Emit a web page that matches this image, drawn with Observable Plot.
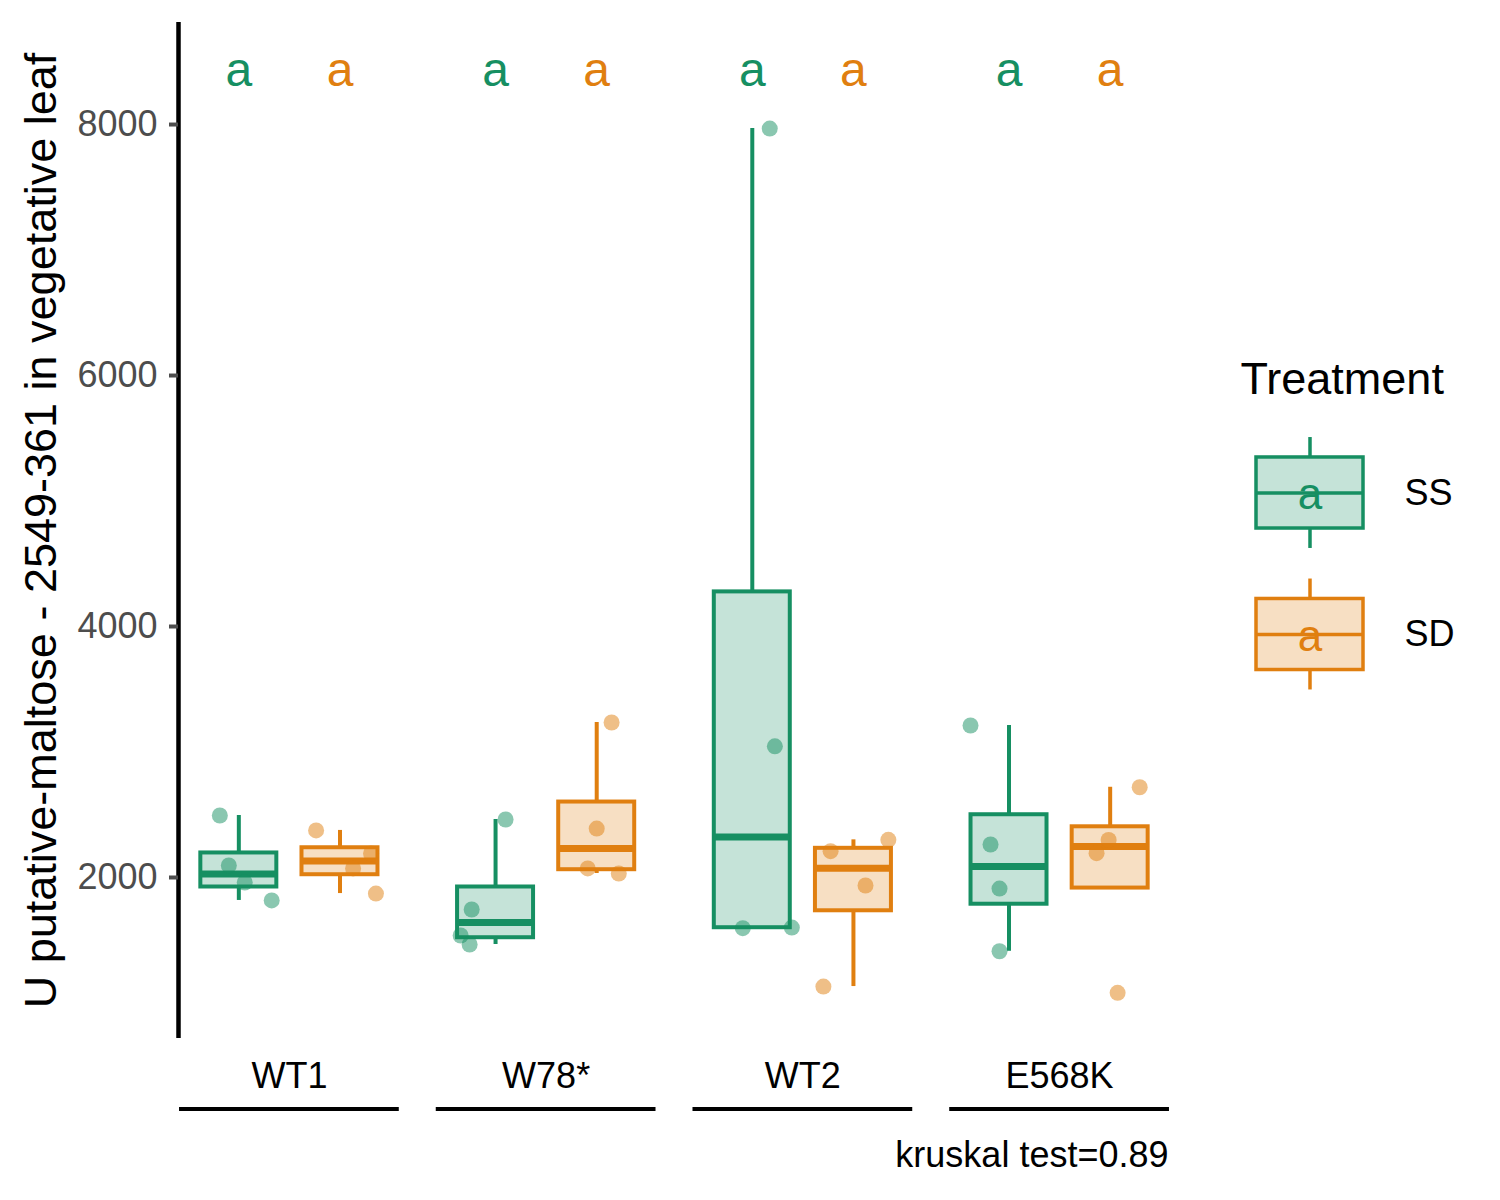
<!DOCTYPE html>
<html>
<head>
<meta charset="utf-8">
<script src="https://cdn.jsdelivr.net/npm/d3@7"></script>
<script src="https://cdn.jsdelivr.net/npm/@observablehq/plot@0.6"></script>
<style>
  html, body { margin: 0; padding: 0; background: #fff; }
  #wrap { position: relative; width: 1500px; height: 1200px; font-family: "Liberation Sans", Arial, sans-serif; }
  #main { position: absolute; left: 0; top: 0; }
  #legend { position: absolute; left: 1200px; top: 300px; }
</style>
</head>
<body>
<div id="wrap"><div id="main"></div><div id="legend"></div></div>
<script>
// ---------- data ----------
const genotypes = ["WT1", "W78*", "WT2", "E568K"];
const treatments = ["SS", "SD"];
const ssValues = [[2494, 2096, 1960, 1817], [2462, 1745, 1538, 1466], [7968, 3045, 1596, 1601], [3211, 2263, 1912, 1412]];
const sdValues = [[2375, 2191, 2072, 1872], [3235, 2390, 2072, 2032], [2210, 2300, 1936, 1131], [2719, 2299, 2194, 1081]];
// horizontal jitter of each point (in group widths)
const ssJitter = [[-0.074, -0.039, 0.023, 0.128], [0.039, -0.093, -0.136, -0.101], [0.068, 0.088, -0.037, 0.154], [-0.150, -0.072, -0.037, -0.037]];
const sdJitter = [[-0.093, 0.121, 0.051, 0.140], [0.058, 0.0, -0.035, 0.086], [-0.089, 0.136, 0.047, -0.117], [0.115, -0.006, -0.053, 0.029]];
const ssLetters = ["a", "a", "a", "a"];
const sdLetters = ["a", "a", "a", "a"];
const yTicks = [2000, 4000, 6000, 8000];
const yTitle = "U putative-maltose - 2549-361 in vegetative leaf";
const legendTitle = "Treatment";
const caption = "kruskal test=0.89";

// ---------- styling / layout ----------
const colors = {SS: "#168F62", SD: "#E07F10"};
const dodge = {SS: -0.197, SD: 0.197};
const boxHalf = 0.148;
const bracketHalf = 0.428;
const xDomain = [-0.432, 3.432];
const yDomain = [717, 8813];
const font = "'Liberation Sans', Arial, sans-serif";

// ---------- derived tables ----------
const seriesValues = {SS: ssValues, SD: sdValues};
const seriesJitter = {SS: ssJitter, SD: sdJitter};
const seriesLetters = {SS: ssLetters, SD: sdLetters};

const points = [];
const boxes = [];
const letters = [];
genotypes.forEach((g, gi) => {
  treatments.forEach(t => {
    const vals = seriesValues[t][gi];
    vals.forEach((v, k) => points.push({g, gi, t, value: v, jitter: seriesJitter[t][gi][k]}));
    const s = d3.sort(vals);
    const q1 = d3.quantileSorted(s, 0.25), med = d3.quantileSorted(s, 0.5), q3 = d3.quantileSorted(s, 0.75);
    const iqr = q3 - q1;
    const lo = d3.min(vals.filter(v => v >= q1 - 1.5 * iqr));
    const hi = d3.max(vals.filter(v => v <= q3 + 1.5 * iqr));
    boxes.push({g, gi, t, q1, med, q3, lo: Math.min(lo, q1), hi: Math.max(hi, q3)});
    letters.push({g, gi, t, label: seriesLetters[t][gi]});
  });
});
const pos = d => d.gi + dodge[d.t];

// ---------- main chart ----------
const chart = Plot.plot({
  width: 1500,
  height: 1200,
  marginTop: 22,
  marginBottom: 162,
  marginLeft: 178,
  marginRight: 330,
  style: {fontFamily: font, background: "transparent", overflow: "visible"},
  x: {domain: xDomain},
  y: {domain: yDomain},
  marks: [
    // whiskers
    Plot.ruleX(boxes, {x: pos, y1: "q3", y2: "hi", stroke: d => colors[d.t], strokeWidth: 4}),
    Plot.ruleX(boxes, {x: pos, y1: "lo", y2: "q1", stroke: d => colors[d.t], strokeWidth: 4}),
    // boxes
    Plot.rect(boxes, {x1: d => pos(d) - boxHalf, x2: d => pos(d) + boxHalf, y1: "q1", y2: "q3",
      fill: d => colors[d.t], fillOpacity: 0.25, stroke: d => colors[d.t], strokeWidth: 4}),
    // medians
    Plot.ruleY(boxes, {x1: d => pos(d) - boxHalf, x2: d => pos(d) + boxHalf, y: "med", stroke: d => colors[d.t], strokeWidth: 7}),
    // jittered points
    Plot.dot(points, {x: d => pos(d) + d.jitter, y: "value", r: 8, fill: d => colors[d.t], fillOpacity: 0.5, stroke: null}),
    // significance letters
    Plot.text(letters, {x: pos, text: "label", frameAnchor: "top", lineAnchor: "middle", dy: 48, fill: d => colors[d.t], fontSize: 48}),
    // y axis
    Plot.ruleX([xDomain[0]], {stroke: "#000", strokeWidth: 4.5}),
    Plot.axisY({ticks: yTicks, tickFormat: "d", tickSize: 9, tickPadding: 12, fontSize: 36, color: "#4D4D4D", strokeWidth: 4, label: null}),
    Plot.text([yTitle], {text: d => d, frameAnchor: "left", textAnchor: "middle", lineAnchor: "middle", rotate: -90, dx: -137, fontSize: 45, fill: "#000"}),
    // x axis
    Plot.axisX({ticks: genotypes.map((g, i) => i), tickFormat: i => genotypes[i], tickSize: 0, tickPadding: 24, fontSize: 36, color: "#000", label: null}),
    Plot.ruleY(genotypes.map((g, i) => i), {x1: i => i - bracketHalf, x2: i => i + bracketHalf, y: () => yDomain[0], dy: 70.5, stroke: "#000", strokeWidth: 4}),
    // caption
    Plot.text([caption], {text: d => d, frameAnchor: "bottom-right", textAnchor: "end", lineAnchor: "middle", dx: -2, dy: 117, fontSize: 36, fill: "#000"})
  ]
});
document.getElementById("main").append(chart);

// ---------- legend ----------
const legendRows = treatments.map((t, i) => ({t, i}));
const legend = Plot.plot({
  width: 300,
  height: 420,
  margin: 0,
  style: {fontFamily: font, background: "transparent", overflow: "visible"},
  x: {domain: [-0.5, 0.5], range: [56, 163], axis: null},
  y: {domain: [-0.5, 1.5], range: [121.75, 404.75], axis: null},
  marks: [
    Plot.ruleX(legendRows, {x: () => 0, y1: d => d.i - 0.392, y2: d => d.i - 0.251, stroke: d => colors[d.t], strokeWidth: 3.5}),
    Plot.ruleX(legendRows, {x: () => 0, y1: d => d.i + 0.251, y2: d => d.i + 0.392, stroke: d => colors[d.t], strokeWidth: 3.5}),
    Plot.rect(legendRows, {x1: () => -0.5, x2: () => 0.5, y1: d => d.i - 0.251, y2: d => d.i + 0.251,
      fill: d => colors[d.t], fillOpacity: 0.25, stroke: d => colors[d.t], strokeWidth: 3.5}),
    Plot.ruleY(legendRows, {x1: () => -0.5, x2: () => 0.5, y: "i", stroke: d => colors[d.t], strokeWidth: 3.5}),
    Plot.text(legendRows, {x: () => 0, y: "i", text: d => seriesLetters[d.t][0], fill: d => colors[d.t], fontSize: 44, dy: 2}),
    Plot.text(legendRows, {x: () => 0, y: "i", text: "t", dx: 94.5, textAnchor: "start", fontSize: 36, fill: "#000"}),
    Plot.text([legendTitle], {text: d => d, frameAnchor: "top-left", lineAnchor: "middle", dx: 40, dy: 78.6, textAnchor: "start", fontSize: 45, fill: "#000"})
  ]
});
document.getElementById("legend").append(legend);
</script>
</body>
</html>
